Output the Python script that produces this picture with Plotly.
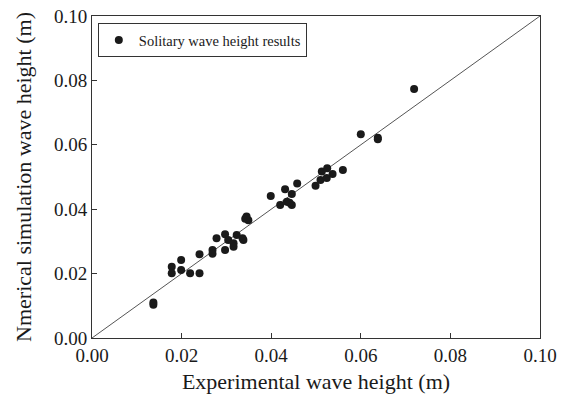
import plotly.graph_objects as go

exp_height = [0.0137, 0.0137, 0.0178, 0.0178, 0.0199, 0.0199, 0.0219, 0.0240, 0.0240,
              0.0269, 0.0269, 0.0278, 0.0297, 0.0297, 0.0304, 0.0316, 0.0323, 0.0316,
              0.0338, 0.0336, 0.0345, 0.0349, 0.0342, 0.0399, 0.0420, 0.0431, 0.0435,
              0.0446, 0.0446, 0.0441, 0.0458, 0.0499, 0.0510, 0.0513, 0.0524, 0.0525,
              0.0537, 0.0560, 0.0600, 0.0638, 0.0638, 0.0719]
sim_height = [0.0103, 0.0110, 0.0221, 0.0201, 0.0242, 0.0211, 0.0201, 0.0201, 0.0260,
              0.0273, 0.0262, 0.0310, 0.0322, 0.0273, 0.0304, 0.0294, 0.0320, 0.0283,
              0.0304, 0.0310, 0.0377, 0.0366, 0.0370, 0.0441, 0.0413, 0.0462, 0.0423,
              0.0447, 0.0413, 0.0420, 0.0480, 0.0473, 0.0491, 0.0517, 0.0497, 0.0527,
              0.0509, 0.0522, 0.0633, 0.0622, 0.0617, 0.0773]
ref_line = [0.0, 0.1]
tick_vals = [0.0, 0.02, 0.04, 0.06, 0.08, 0.10]
tick_text = ["0.00", "0.02", "0.04", "0.06", "0.08", "0.10"]

FONT = "Liberation Serif, Times New Roman, serif"

fig = go.Figure()
fig.add_trace(go.Scatter(x=ref_line, y=ref_line, mode="lines",
                         line=dict(color="#555555", width=1), showlegend=False,
                         hoverinfo="skip"))
fig.add_trace(go.Scatter(x=exp_height, y=sim_height, mode="markers",
                         name="Solitary wave height results",
                         marker=dict(color="#1a1a1a", size=8)))

axis_common = dict(range=[0, 0.1], tickvals=tick_vals, ticktext=tick_text,
                   ticks="inside", ticklen=5, tickcolor="#333333",
                   showline=True, linecolor="#333333", linewidth=1, mirror=True,
                   showgrid=False, zeroline=False, automargin=False,
                   tickfont=dict(family=FONT, size=19, color="#1a1a1a"))

fig.update_layout(
    width=571, height=397,
    margin=dict(l=92, r=31, t=16, b=59),
    paper_bgcolor="white", plot_bgcolor="white",
    font=dict(family=FONT, color="#1a1a1a"),
    xaxis=dict(**axis_common,
               title=dict(text="Experimental wave height (m)", standoff=8,
                          font=dict(family=FONT, size=22, color="#1a1a1a"))),
    yaxis=dict(**axis_common,
               title=dict(text="Nmerical simulation wave height (m)", standoff=16,
                          font=dict(family=FONT, size=22, color="#1a1a1a"))),
    legend=dict(x=0.013, y=0.978, xanchor="left", yanchor="top",
                bgcolor="white", bordercolor="#333333", borderwidth=1,
                font=dict(family=FONT, size=14.5, color="#1a1a1a")),
)

fig.write_html("out.html")
